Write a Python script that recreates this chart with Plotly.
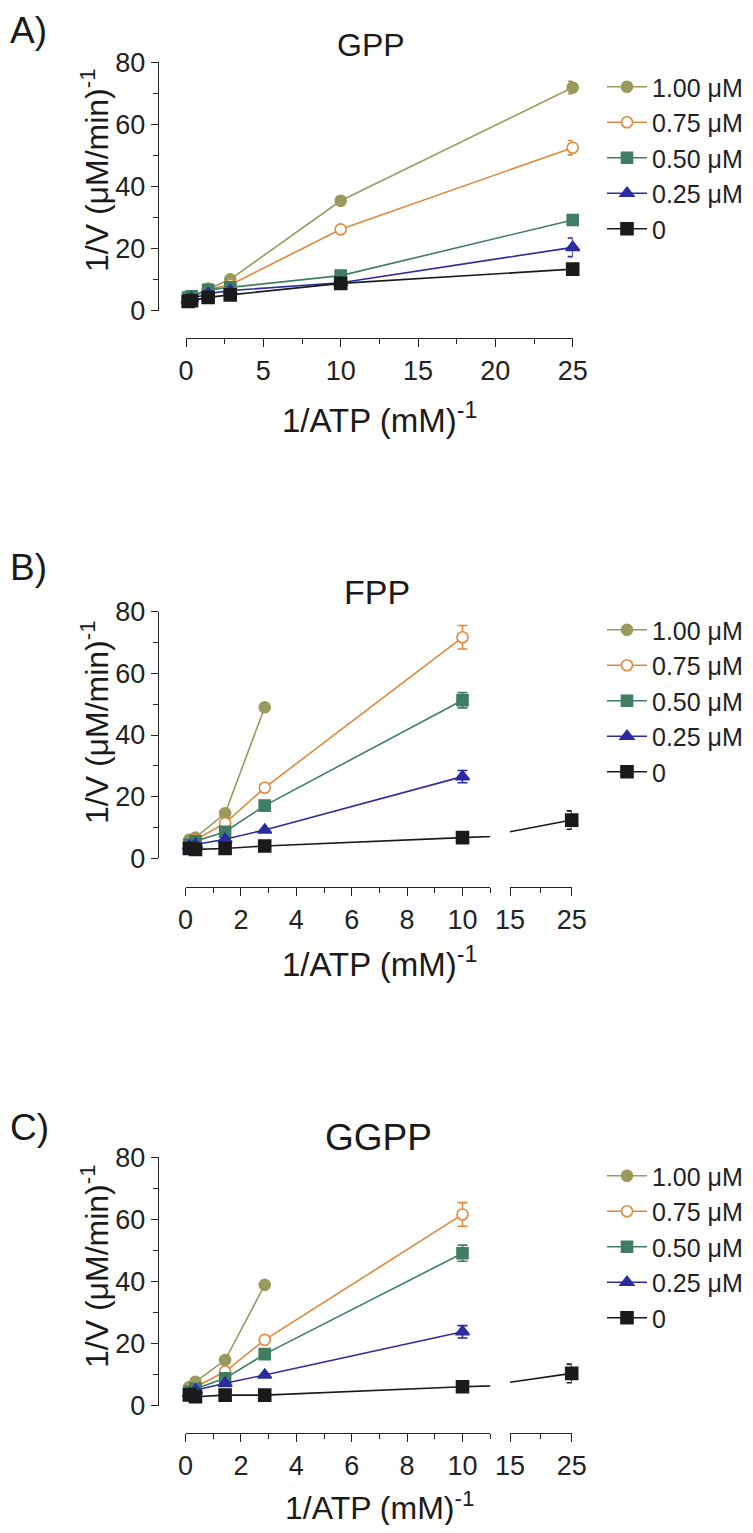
import plotly.graph_objects as go

# page is 753x1533; the html body has an 8 px margin, so the figure is drawn 16 px smaller
PAGE_W, PAGE_H = 753, 1533
OFF = 8
W, H = PAGE_W - 2 * OFF, PAGE_H - 2 * OFF

# ---------------- data ----------------
x_atp = [0.14, 0.36, 1.43, 2.86, 10, 25]          # 1/ATP (mM)^-1
conc_labels = ["1.00 μM", "0.75 μM", "0.50 μM", "0.25 μM", "0"]

# Panel A: GPP
gpp_100 = [4.0, 4.5, 7.1, 10.1, 35.4, 71.9]
gpp_075 = [3.8, 4.3, 6.9, 8.3, 26.2, 52.5]
gpp_050 = [4.2, 4.6, 6.7, 7.5, 11.3, 29.2]
gpp_025 = [3.5, 3.9, 5.5, 6.5, 9.0, 20.4]
gpp_000 = [3.0, 3.2, 4.3, 5.1, 8.8, 13.4]
gpp_100_err = [0, 0, 0, 0, 0, 2.0]
gpp_075_err = [0, 0, 0, 0, 0, 2.3]
gpp_050_err = [0, 0, 0, 0, 0, 1.0]
gpp_025_err = [0, 0, 0, 0, 0, 3.0]
gpp_000_err = [0, 0, 0, 0, 0, 1.5]

# Panel B: FPP
fpp_100 = [6.0, 6.7, 14.6, 49.0]
fpp_075 = [5.0, 6.0, 11.4, 22.9, 71.7]
fpp_050 = [4.5, 5.5, 8.6, 17.1, 51.3]
fpp_025 = [4.0, 4.5, 6.2, 9.2, 26.5]
fpp_000 = [3.2, 2.9, 3.2, 4.0, 6.7, 12.4]
fpp_100_err = [0, 0, 0, 0]
fpp_075_err = [0, 0, 0, 0, 3.8]
fpp_050_err = [0, 0, 0, 0, 2.5]
fpp_025_err = [0, 0, 0, 0, 2.0]
fpp_000_err = [0, 0, 0, 0, 0, 3.0]

# Panel C: GGPP
ggpp_100 = [6.0, 7.7, 14.7, 38.9]
ggpp_075 = [5.0, 6.0, 11.0, 21.2, 61.6]
ggpp_050 = [4.5, 5.5, 8.8, 16.6, 49.1]
ggpp_025 = [4.0, 5.0, 7.2, 9.9, 23.8]
ggpp_000 = [3.5, 2.9, 3.4, 3.4, 6.1, 10.4]
ggpp_100_err = [0, 0, 0, 0]
ggpp_075_err = [0, 0, 0, 0, 3.8]
ggpp_050_err = [0, 0, 0, 0, 2.6]
ggpp_025_err = [0, 0, 0, 0, 2.0]
ggpp_000_err = [0, 0, 0, 0, 0, 3.0]

# ---------------- styles ----------------
colors = ["#9a9a5e", "#e0883c", "#3f7e62", "#2c2ca0", "#1a1a1a"]
fills = ["#9a9a5e", "white", "#3f7e62", "#2c2ca0", "#1a1a1a"]
symbols = ["circle", "circle", "square", "triangle-up", "square"]
msizes = [11, 11, 11, 12, 12]
FONT = "Liberation Sans, Arial, sans-serif"
AXC = "#222222"


def px_x(p):
    return (p - OFF) / W


def px_y(p):
    return 1 - (p - OFF) / H


fig = go.Figure()

panels = [
    dict(key="A", ys=[gpp_100, gpp_075, gpp_050, gpp_025, gpp_000],
         es=[gpp_100_err, gpp_075_err, gpp_050_err, gpp_025_err, gpp_000_err],
         axes=[("x", "y")], legend="legend"),
    dict(key="B", ys=[fpp_100, fpp_075, fpp_050, fpp_025, fpp_000],
         es=[fpp_100_err, fpp_075_err, fpp_050_err, fpp_025_err, fpp_000_err],
         axes=[("x2", "y2"), ("x3", "y2")], legend="legend2"),
    dict(key="C", ys=[ggpp_100, ggpp_075, ggpp_050, ggpp_025, ggpp_000],
         es=[ggpp_100_err, ggpp_075_err, ggpp_050_err, ggpp_025_err, ggpp_000_err],
         axes=[("x4", "y3"), ("x5", "y3")], legend="legend3"),
]

for p in panels:
    for j, (xa, ya) in enumerate(p["axes"]):
        for i in range(5):
            yv = p["ys"][i]
            xv = x_atp[:len(yv)]
            if j == 1 and max(xv) < 15:
                continue
            fig.add_trace(go.Scatter(
                x=xv, y=yv, xaxis=xa, yaxis=ya,
                mode="lines+markers",
                name=conc_labels[i],
                legend=p["legend"],
                legendgroup=p["key"] + str(i),
                showlegend=(j == 0),
                cliponaxis=False,
                line=dict(color=colors[i], width=1.6),
                marker=dict(symbol=symbols[i], size=msizes[i], color=fills[i],
                            line=dict(color=colors[i], width=1.6)),
                error_y=dict(type="data", array=p["es"][i], visible=True,
                             color=colors[i], thickness=1.6, width=5),
            ))

tickfont = dict(family=FONT, size=27, color="#222")


def xax(dom, rng, pos, dtick, mdtick, tick0=0):
    return dict(domain=[px_x(dom[0]), px_x(dom[1])], range=rng, anchor="free",
                position=px_y(pos), showline=True, linecolor=AXC, linewidth=1.4,
                ticks="outside", ticklen=8, tickwidth=1.4, tickcolor=AXC,
                tickmode="linear", tick0=tick0, dtick=dtick,
                minor=dict(dtick=mdtick, tick0=tick0, ticks="outside", ticklen=5,
                           tickwidth=1.4, tickcolor=AXC, showgrid=False),
                showgrid=False, zeroline=False, tickfont=tickfont, fixedrange=True,
                automargin=False)


def yax(dom):
    return dict(domain=[px_y(dom[1]), px_y(dom[0])], range=[0, 80], anchor="free",
                position=px_x(158), showline=True, linecolor=AXC, linewidth=1.4,
                ticks="outside", ticklen=7, tickwidth=1.4, tickcolor=AXC,
                tickmode="linear", tick0=0, dtick=20,
                minor=dict(dtick=10, ticks="outside", ticklen=5, tickwidth=1.4,
                           tickcolor=AXC, showgrid=False),
                showgrid=False, zeroline=False, tickfont=tickfont, fixedrange=True,
                automargin=False)


fig.update_layout(
    xaxis=xax((186, 572.7), [0, 25], 338, 5, 2.5),
    yaxis=yax((62.3, 310.7)),
    xaxis2=xax((185.5, 490.2), [0, 11], 887, 2, 1),
    xaxis3=xax((510, 571.7), [15, 25], 887, 10, 5, tick0=15),
    yaxis2=yax((611.7, 858.3)),
    xaxis4=xax((185.5, 490.2), [0, 11], 1433, 2, 1),
    xaxis5=xax((510, 571.7), [15, 25], 1433, 10, 5, tick0=15),
    yaxis3=yax((1157.3, 1405.7)),
)

legend_common = dict(xanchor="left", yanchor="top", bgcolor="rgba(0,0,0,0)",
                     font=dict(family=FONT, size=25, color="#222"),
                     tracegroupgap=0, itemwidth=40)
fig.update_layout(
    legend=dict(x=px_x(602), y=px_y(64), **legend_common),
    legend2=dict(x=px_x(602), y=px_y(607), **legend_common),
    legend3=dict(x=px_x(602), y=px_y(1153), **legend_common),
)

ann = []


def text(t, x, y, size, angle=0, xanchor="center", yanchor="middle"):
    ann.append(dict(text=t, x=px_x(x), y=px_y(y), xref="paper", yref="paper",
                    showarrow=False, textangle=angle, xanchor=xanchor, yanchor=yanchor,
                    font=dict(family=FONT, size=size, color="#1a1a1a")))


ylab = "1/V (μM/min)<sup>-1</sup>"
xlab = "1/ATP (mM)<sup>-1</sup>"
# panel A
text("A)", 8, 8, 37, xanchor="left", yanchor="top")
text("GPP", 371, 45, 32)
text(ylab, 95, 170, 32, angle=-90)
text(xlab, 379, 418, 33)
# panel B
text("B)", 8, 567, 37, xanchor="left")
text("FPP", 377, 592, 34)
text(ylab, 95, 722, 32, angle=-90)
text(xlab, 379, 962, 33)
# panel C
text("C)", 8, 1127, 37, xanchor="left")
text("GGPP", 378, 1137, 37)
text(ylab, 95, 1266, 32, angle=-90)
text(xlab, 379, 1506, 32)

fig.update_layout(
    annotations=ann,
    width=W, height=H,
    margin=dict(l=0, r=0, t=0, b=0, autoexpand=False),
    paper_bgcolor="white", plot_bgcolor="white",
    font=dict(family=FONT, color="#222"),
)

fig.write_html("out.html")
